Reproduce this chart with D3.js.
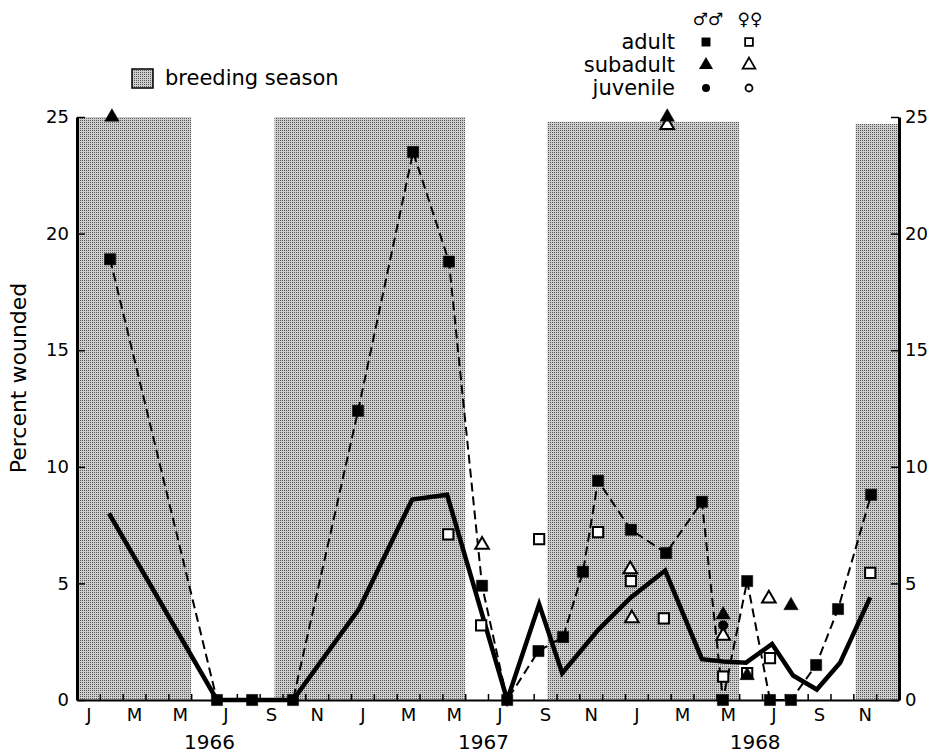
<!DOCTYPE html>
<html>
<head>
<meta charset="utf-8">
<script src="https://cdn.jsdelivr.net/npm/d3@7"></script>
<style>
  body { margin: 0; background: #fff; }
  text { font-family: "DejaVu Sans", sans-serif; fill: #000; }
</style>
</head>
<body>
<div id="chart"></div>
<script>
// Months are counted from Jan 1966 (0 = Jan 1966, 12 = Jan 1967, 24 = Jan 1968)

// Breeding season bands [start month, end month, top value]
var breedStart = [-0.5, 8.15, 20.1, 33.6];
var breedEnd = [4.5, 16.5, 28.5, 35.5];
var breedTop = [25, 25, 24.8, 24.7];

// Adult males (filled squares, dashed line)
var maleAdultMonth = [0.95, 5.63, 7.17, 8.96, 11.81, 14.22, 15.79, 17.24, 18.34, 19.71, 20.79, 21.66, 22.32, 23.76, 25.3, 26.87, 27.79, 28.85, 29.85, 30.77, 31.87, 32.83, 34.28];
var maleAdultValue = [18.9, 0, 0, 0, 12.4, 23.5, 18.8, 4.9, 0, 2.1, 2.7, 5.5, 9.4, 7.3, 6.3, 8.5, 0, 5.1, 0, 0, 1.5, 3.9, 8.8];

// Adult females (open squares)
var femaleAdultMonth = [15.76, 17.2, 19.74, 22.32, 23.76, 25.2, 27.8, 28.85, 29.85, 34.24];
var femaleAdultValue = [7.1, 3.2, 6.9, 7.2, 5.1, 3.5, 1.0, 1.15, 1.8, 5.45];

// Subadult males (filled triangles)
var maleSubMonth = [1.03, 25.35, 27.8, 28.85, 30.77];
var maleSubValue = [25, 25, 3.65, 1.05, 4.05];

// Subadult females (open triangles)
var femaleSubMonth = [17.24, 23.73, 23.8, 25.35, 27.8, 29.8];
var femaleSubValue = [6.65, 5.6, 3.5, 24.65, 2.75, 4.35];

// Juvenile males (filled circles)
var maleJuvMonth = [27.8];
var maleJuvValue = [3.2];

// Total (thick solid line)
var totalMonth = [0.9, 5.63, 8.96, 11.85, 14.18, 15.71, 18.34, 19.74, 20.75, 22.32, 23.76, 25.26, 26.87, 27.8, 28.8, 29.94, 30.86, 31.9, 32.92, 34.24];
var totalValue = [8.0, 0, 0, 3.9, 8.6, 8.8, 0, 4.1, 1.15, 3.0, 4.4, 5.55, 1.75, 1.65, 1.6, 2.4, 1.05, 0.45, 1.6, 4.4];

// Axis labels
var monthLabels = ["J", "M", "M", "J", "S", "N"];
var yearLabels = ["1966", "1967", "1968"];
var yearMonth = [5.3, 17.3, 29.2];
var yTicks = [0, 5, 10, 15, 20, 25];

// SVG area
var svgWidth = 938;
var svgHeight = 755;

var svg = d3.select("#chart")
  .append("svg")
  .attr("width", svgWidth)
  .attr("height", svgHeight);

// Stipple pattern for the breeding season
var defs = svg.append("defs");
var pattern = defs.append("pattern")
  .attr("id", "stipple")
  .attr("width", 2)
  .attr("height", 2)
  .attr("patternUnits", "userSpaceOnUse");
pattern.append("rect").attr("width", 2).attr("height", 2).attr("fill", "#cdcdcd");
pattern.append("rect").attr("width", 1).attr("height", 1).attr("fill", "#5a5a5a");

// Scales
var xScale = d3.scaleLinear()
  .domain([-0.5, 35.5])
  .range([77, 899]);

var yScale = d3.scaleLinear()
  .domain([0, 25])
  .range([700, 117]);

// Breeding bands
svg.append("g")
  .selectAll("rect")
  .data(breedStart)
  .enter()
  .append("rect")
  .attr("x", (d, i) => xScale(d))
  .attr("y", (d, i) => yScale(breedTop[i]))
  .attr("width", (d, i) => xScale(breedEnd[i]) - xScale(d))
  .attr("height", (d, i) => yScale(0) - yScale(breedTop[i]))
  .attr("fill", "url(#stipple)");

// Bottom axis: tick marks at month boundaries
var boundaries = d3.range(0.5, 35, 1);
var tickAxis = d3.axisBottom(xScale)
  .tickValues(boundaries)
  .tickSizeInner(-6)
  .tickSizeOuter(0)
  .tickFormat("");

svg.append("g")
  .attr("transform", `translate(0, ${yScale(0)})`)
  .call(tickAxis)
  .call(g => g.select(".domain").attr("stroke-width", 2.2))
  .call(g => g.selectAll(".tick line").attr("stroke-width", 1.5));

// Bottom axis: month letters at every second month
var labelMonths = d3.range(0, 35, 2);
var labelAxis = d3.axisBottom(xScale)
  .tickValues(labelMonths)
  .tickSize(0)
  .tickPadding(8)
  .tickFormat((d, i) => monthLabels[i % 6]);

svg.append("g")
  .attr("transform", `translate(0, ${yScale(0)})`)
  .call(labelAxis)
  .call(g => g.select(".domain").remove())
  .call(g => g.selectAll("text").attr("font-size", 18).attr("font-family", "DejaVu Sans"));

// Year labels
svg.append("g")
  .selectAll("text")
  .data(yearLabels)
  .enter()
  .append("text")
  .attr("x", (d, i) => xScale(yearMonth[i]))
  .attr("y", 749)
  .attr("text-anchor", "middle")
  .attr("font-size", 20)
  .text(d => d);

// Left and right axes
var leftAxis = d3.axisLeft(yScale)
  .tickValues(yTicks)
  .tickSizeInner(-8)
  .tickSizeOuter(0)
  .tickPadding(8);

svg.append("g")
  .attr("transform", `translate(${xScale(-0.5)}, 0)`)
  .call(leftAxis)
  .call(g => g.select(".domain").attr("stroke-width", 3))
  .call(g => g.selectAll(".tick line").attr("stroke-width", 1.5))
  .call(g => g.selectAll("text").attr("font-size", 18).attr("font-family", "DejaVu Sans"));

var rightAxis = d3.axisRight(yScale)
  .tickValues(yTicks)
  .tickSizeInner(-8)
  .tickSizeOuter(0)
  .tickPadding(6);

svg.append("g")
  .attr("transform", `translate(${xScale(35.5)}, 0)`)
  .call(rightAxis)
  .call(g => g.select(".domain").attr("stroke-width", 3))
  .call(g => g.selectAll(".tick line").attr("stroke-width", 1.5))
  .call(g => g.selectAll("text").attr("font-size", 18).attr("font-family", "DejaVu Sans"));

// Y axis title
svg.append("text")
  .attr("transform", "rotate(-90)")
  .attr("x", -378)
  .attr("y", 26)
  .attr("text-anchor", "middle")
  .attr("font-size", 22)
  .text("Percent wounded");

// Lines
var maleAdultData = maleAdultMonth.map((m, i) => [m, maleAdultValue[i]]);
var totalData = totalMonth.map((m, i) => [m, totalValue[i]]);

var line = d3.line()
  .x(d => xScale(d[0]))
  .y(d => yScale(d[1]));

svg.append("path")
  .datum(totalData)
  .attr("d", line)
  .attr("fill", "none")
  .attr("stroke", "#000")
  .attr("stroke-width", 4.5)
  .attr("stroke-linejoin", "miter");

svg.append("path")
  .datum(maleAdultData)
  .attr("d", line)
  .attr("fill", "none")
  .attr("stroke", "#000")
  .attr("stroke-width", 2)
  .attr("stroke-dasharray", "9,5");

// Marker helpers
var squareSym = d3.symbol().type(d3.symbolSquare);
var triSym = d3.symbol().type(d3.symbolTriangle);

function drawMarks(months, values, sym, size, filled) {
  svg.append("g")
    .selectAll("path")
    .data(months)
    .enter()
    .append("path")
    .attr("transform", (d, i) => `translate(${xScale(d)}, ${yScale(values[i])})`)
    .attr("d", sym.size(size)())
    .attr("fill", filled ? "#000" : "#fff")
    .attr("stroke", "#000")
    .attr("stroke-width", filled ? 0.5 : 2);
}

drawMarks(femaleAdultMonth, femaleAdultValue, squareSym, 105, false);
drawMarks(femaleSubMonth, femaleSubValue, triSym, 80, false);
drawMarks(maleAdultMonth, maleAdultValue, squareSym, 125, true);
drawMarks(maleSubMonth, maleSubValue, triSym, 90, true);

svg.append("g")
  .selectAll("circle")
  .data(maleJuvMonth)
  .enter()
  .append("circle")
  .attr("cx", d => xScale(d))
  .attr("cy", (d, i) => yScale(maleJuvValue[i]))
  .attr("r", 5)
  .attr("fill", "#000");

// Breeding season legend
svg.append("rect")
  .attr("x", 132)
  .attr("y", 69)
  .attr("width", 21)
  .attr("height", 19)
  .attr("fill", "url(#stipple)")
  .attr("stroke", "#000")
  .attr("stroke-width", 1.5);

svg.append("text")
  .attr("x", 165)
  .attr("y", 85)
  .attr("font-size", 21)
  .text("breeding season");

// Sex / age legend
var legendRows = ["adult", "subadult", "juvenile"];
var legendY = [42, 65, 88];

svg.append("text").attr("x", 708).attr("y", 25).attr("text-anchor", "middle").attr("font-size", 17).text("\u2642\u2642");
svg.append("text").attr("x", 750).attr("y", 25).attr("text-anchor", "middle").attr("font-size", 17).text("\u2640\u2640");

svg.append("g")
  .selectAll("text")
  .data(legendRows)
  .enter()
  .append("text")
  .attr("x", 675)
  .attr("y", (d, i) => legendY[i] + 7)
  .attr("text-anchor", "end")
  .attr("font-size", 21)
  .text(d => d);

var legendSyms = [squareSym, triSym];
legendSyms.forEach(function(sym, i) {
  svg.append("path")
    .attr("transform", `translate(706, ${legendY[i]})`)
    .attr("d", sym.size(i === 0 ? 80 : 85)())
    .attr("fill", "#000");
  svg.append("path")
    .attr("transform", `translate(749, ${legendY[i]})`)
    .attr("d", sym.size(i === 0 ? 60 : 70)())
    .attr("fill", "#fff")
    .attr("stroke", "#000")
    .attr("stroke-width", 1.8);
});

svg.append("circle").attr("cx", 706).attr("cy", legendY[2]).attr("r", 4).attr("fill", "#000");
svg.append("circle").attr("cx", 749).attr("cy", legendY[2]).attr("r", 3.5).attr("fill", "#fff").attr("stroke", "#000").attr("stroke-width", 1.8);
</script>
</body>
</html>
